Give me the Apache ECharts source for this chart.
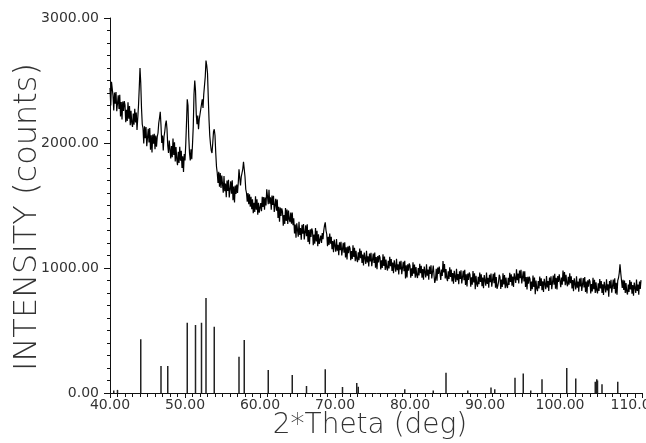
<!DOCTYPE html>
<html>
<head>
<meta charset="utf-8">
<script src="https://cdn.jsdelivr.net/npm/echarts@6/dist/echarts.min.js"></script>
<style>
  html, body { margin: 0; padding: 0; background: #fff; }
  #chart { width: 646px; height: 443px; }
</style>
</head>
<body>
<div id="chart"></div>
<script>
// Scan grid of the diffractogram (degrees 2-theta)
const scanStart = 40.0;
const scanStep = 0.1;

const intensity = [
  2440, 2300, 2490, 2500, 2378, 2261, 2403, 2314, 2407, 2255,
  2254, 2382, 2272, 2386, 2213, 2327, 2189, 2331, 2256, 2335,
  2304, 2166, 2266, 2177, 2326, 2195, 2295, 2143, 2257, 2161,
  2128, 2235, 2146, 2274, 2164, 2243, 2105, 2198, 2300, 2440,
  2600, 2480, 2280, 2150, 2118, 1996, 2133, 2039, 2127, 1975,
  1984, 2113, 2004, 2119, 1947, 2062, 1925, 2068, 1994, 2074,
  1950, 2060, 1970, 2050, 2080, 2160, 2200, 2250, 2140, 2000,
  2060, 1940, 2050, 2090, 2150, 2180, 2110, 1980, 1920, 2020,
  2014, 1876, 1976, 1887, 2036, 1905, 2005, 1853, 1967, 1871,
  1823, 1930, 1841, 1969, 1859, 1938, 1800, 1893, 1769, 1911,
  1860, 1990, 2160, 2350, 2300, 2050, 1920, 1860, 1950, 1870,
  1990, 2130, 2390, 2500, 2420, 2230, 2150, 2220, 2110, 2190,
  2180, 2270, 2310, 2350, 2280, 2390, 2460, 2530, 2660, 2620,
  2560, 2370, 2190, 2060, 1990, 1940, 1920, 2000, 2090, 2110,
  2060, 1920, 1810, 1760, 1680, 1770, 1650, 1760, 1640, 1740,
  1730, 1603, 1735, 1614, 1675, 1567, 1699, 1617, 1705, 1564,
  1573, 1694, 1594, 1702, 1543, 1651, 1525, 1659, 1592, 1667,
  1600, 1680, 1790, 1720, 1660, 1730, 1760, 1790, 1850, 1790,
  1730, 1630, 1600, 1530, 1600, 1510, 1590, 1490, 1570, 1470,
  1550, 1438, 1521, 1449, 1573, 1466, 1550, 1426, 1521, 1443,
  1427, 1519, 1455, 1569, 1488, 1567, 1467, 1563, 1500, 1630,
  1628, 1511, 1625, 1514, 1565, 1466, 1580, 1504, 1577, 1449,
  1454, 1554, 1459, 1548, 1401, 1490, 1371, 1483, 1416, 1477,
  1450, 1339, 1423, 1353, 1480, 1377, 1468, 1352, 1460, 1390,
  1367, 1444, 1355, 1444, 1343, 1397, 1277, 1348, 1243, 1358,
  1363, 1251, 1370, 1264, 1320, 1226, 1345, 1274, 1352, 1229,
  1236, 1342, 1254, 1349, 1208, 1304, 1191, 1309, 1249, 1316,
  1295, 1183, 1267, 1195, 1320, 1213, 1298, 1174, 1270, 1192,
  1180, 1260, 1200, 1280, 1230, 1300, 1340, 1365, 1300, 1270,
  1175, 1250, 1185, 1275, 1195, 1250, 1150, 1216, 1127, 1228,
  1228, 1130, 1232, 1139, 1186, 1103, 1205, 1142, 1209, 1101,
  1108, 1201, 1123, 1206, 1084, 1166, 1069, 1172, 1119, 1177,
  1159, 1062, 1135, 1073, 1181, 1089, 1162, 1055, 1138, 1071,
  1047, 1125, 1063, 1156, 1079, 1137, 1040, 1108, 1021, 1124,
  1130, 1033, 1137, 1045, 1093, 1012, 1115, 1053, 1122, 1015,
  1022, 1116, 1040, 1124, 1003, 1087, 991, 1095, 1044, 1103,
  1085, 988, 1062, 1000, 1109, 1017, 1091, 984, 1068, 1001,
  980, 1058, 997, 1090, 1014, 1072, 976, 1044, 958, 1061,
  1068, 971, 1074, 982, 1030, 948, 1051, 989, 1057, 950,
  956, 1050, 974, 1058, 917, 1021, 925, 1029, 978, 1037,
  1019, 923, 997, 936, 1045, 954, 1028, 922, 1007, 941,
  920, 1000, 940, 1034, 958, 1018, 922, 992, 907, 1011,
  1020, 924, 1029, 938, 988, 907, 1012, 952, 1021, 916,
  925, 1020, 944, 880, 909, 994, 898, 1003, 953, 1012,
  997, 905, 987, 937, 1055, 965, 1032, 917, 992, 920,
  895, 974, 912, 1006, 929, 988, 892, 960, 874, 977,
  985, 889, 993, 902, 951, 870, 974, 913, 982, 876,
  884, 978, 902, 986, 865, 949, 853, 955, 905, 964,
  947, 851, 926, 866, 975, 885, 958, 830, 938, 871,
  850, 930, 870, 964, 889, 949, 854, 923, 839, 943,
  953, 858, 963, 872, 922, 842, 946, 886, 956, 851,
  859, 953, 878, 963, 843, 927, 834, 855, 886, 946,
  928, 833, 908, 848, 958, 868, 943, 838, 923, 858,
  840, 922, 864, 961, 888, 950, 858, 931, 849, 958,
  972, 881, 990, 903, 955, 876, 980, 918, 985, 876,
  882, 973, 893, 973, 848, 928, 828, 929, 875, 931,
  912, 816, 891, 831, 939, 848, 923, 790, 900, 835,
  815, 896, 836, 931, 856, 917, 822, 893, 808, 913,
  924, 830, 935, 845, 896, 816, 923, 864, 934, 830,
  842, 939, 866, 953, 835, 922, 829, 936, 888, 950,
  938, 846, 924, 867, 980, 892, 968, 863, 946, 878,
  854, 930, 866, 957, 878, 934, 836, 903, 815, 917,
  925, 829, 933, 842, 891, 810, 915, 853, 922, 816,
  825, 919, 844, 928, 808, 892, 796, 901, 851, 910,
  893, 797, 872, 812, 921, 831, 906, 800, 885, 819,
  797, 877, 816, 911, 836, 896, 801, 870, 785, 890,
  900, 805, 910, 820, 870, 770, 895, 836, 906, 802,
  812, 907, 832, 917, 797, 882, 787, 900, 920, 960,
  1030, 960, 900, 840, 905, 825, 900, 800, 880, 810,
  788, 868, 808, 904, 828, 889, 794, 864, 779, 884,
  896, 801, 907, 817, 867, 787, 892, 832, 903
];

// Reference (stick) pattern: peak positions and relative intensities
const stickPos = [40.5, 41.0, 44.1, 46.8, 47.7, 50.3, 51.4, 52.2, 52.8, 53.9,
                  57.2, 57.9, 61.1, 64.3, 66.2, 68.7, 71.0, 72.9, 73.1, 79.3,
                  83.1, 84.8, 87.7, 90.8, 91.3, 94.0, 95.1, 96.1, 97.6, 100.9,
                  102.1, 104.7, 104.9, 105.0, 105.6, 107.7];
const stickInt = [20, 25, 430, 216, 216, 562, 544, 562, 760, 530,
                  290, 424, 184, 144, 56, 190, 48, 80, 50, 30,
                  20, 162, 20, 45, 30, 122, 157, 20, 110, 200,
                  117, 90, 110, 100, 70, 90];

// Axis tick labels
const xTickValues = [40, 50, 60, 70, 80, 90, 100, 110];
const yTickValues = [0, 1000, 2000, 3000];

const xTitle = '2*Theta (deg)';
const yTitle = 'INTENSITY (counts)';

const chart = echarts.init(document.getElementById('chart'), null, { renderer: 'canvas' });

const lineData = intensity.map((v, i) => [+(scanStart + i * scanStep).toFixed(1), v]);
const stickData = stickPos.map((p, i) => [p, stickInt[i]]);

const font = 'DejaVu Sans';

chart.setOption({
  animation: false,
  backgroundColor: '#ffffff',
  grid: { left: 110, right: 3.5, top: 18, bottom: 50, containLabel: false, outerBoundsMode: 'none' },
  xAxis: {
    type: 'value',
    min: 40, max: 111, interval: 10,
    axisLine: { show: true, onZero: false, lineStyle: { color: '#111', width: 1 } },
    axisTick: { show: true, length: 5, lineStyle: { color: '#111' } },
    minorTick: { show: true, splitNumber: 10, length: 4, lineStyle: { color: '#111' } },
    splitLine: { show: false },
    minorSplitLine: { show: false },
    axisLabel: {
      margin: 5, fontFamily: font, fontSize: 14, color: '#333',
      formatter: v => xTickValues.indexOf(Math.round(v * 100) / 100) >= 0 ? v.toFixed(2) : ''
    }
  },
  yAxis: {
    type: 'value',
    min: 0, max: 3000, interval: 1000,
    axisLine: { show: true, lineStyle: { color: '#111', width: 1 } },
    axisTick: { show: true, length: 6, lineStyle: { color: '#111' } },
    minorTick: { show: true, splitNumber: 10, length: 3, lineStyle: { color: '#111' } },
    splitLine: { show: false },
    axisLabel: {
      margin: 11, fontFamily: font, fontSize: 14, color: '#333',
      formatter: v => yTickValues.indexOf(v) >= 0 ? v.toFixed(2) : ''
    }
  },
  graphic: [
    {
      type: 'text', x: 28, y: 217, rotation: Math.PI / 2,
      style: { text: yTitle, font: '200 32px "DejaVu Sans"', fill: '#333', textAlign: 'center', textVerticalAlign: 'middle' }
    },
    {
      type: 'text', x: 370, y: 426,
      style: { text: xTitle, font: '200 28px "DejaVu Sans"', fill: '#333', textAlign: 'center', textVerticalAlign: 'middle' }
    }
  ],
  series: [
    {
      type: 'bar',
      data: stickData,
      barWidth: 1.5,
      itemStyle: { color: '#222' },
      z: 1
    },
    {
      type: 'line',
      data: lineData,
      showSymbol: false,
      symbol: 'none',
      lineStyle: { color: '#000', width: 1.2 },
      z: 2
    }
  ]
});
</script>
</body>
</html>
